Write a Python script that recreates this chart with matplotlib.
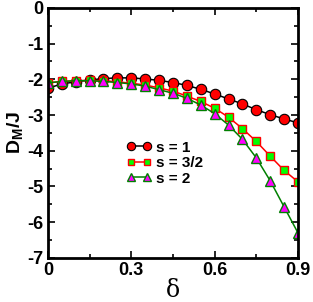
import numpy as np
import matplotlib
matplotlib.use('Agg')
import matplotlib.pyplot as plt
from matplotlib.ticker import MultipleLocator

delta = np.arange(19) * 0.05
s1 = [-2.25, -2.13, -2.07, -2.02, -1.98, -1.96, -1.96, -1.99, -2.03, -2.09,
      -2.17, -2.28, -2.41, -2.55, -2.69, -2.85, -2.99, -3.11, -3.22]
s32 = [-2.10, -2.06, -2.04, -2.03, -2.04, -2.07, -2.11, -2.16, -2.24, -2.33,
       -2.47, -2.62, -2.81, -3.06, -3.38, -3.74, -4.15, -4.55, -4.87]
s2 = [-2.10, -2.06, -2.04, -2.04, -2.06, -2.09, -2.13, -2.19, -2.29, -2.39,
      -2.53, -2.72, -2.96, -3.28, -3.68, -4.20, -4.84, -5.57, -6.30]
labels = ['s = 1', 's = 3/2', 's = 2']

plt.rcParams['font.family'] = ['Liberation Sans', 'DejaVu Sans']
plt.rcParams['font.weight'] = 'bold'
plt.rcParams['axes.unicode_minus'] = False
plt.rcParams['mathtext.fontset'] = 'custom'
plt.rcParams['mathtext.rm'] = 'Liberation Sans:bold'
plt.rcParams['mathtext.bf'] = 'Liberation Sans:bold'
plt.rcParams['mathtext.default'] = 'bf'

fig = plt.figure(figsize=(3.13, 3.02), dpi=100)
ax = fig.add_axes([0.153, 0.146, 0.799, 0.828])

ax.plot(delta, s1, '-o', color='black', lw=1.1, ms=7.5, mfc='red', mec='black', mew=0.8, label=labels[0])
ax.plot(delta, s32, '-s', color='red', lw=1.1, ms=6, mfc='#00ff00', mec='red', mew=1.0, label=labels[1])
ax.plot(delta, s2, '-^', color='green', lw=1.1, ms=6.5, mfc='magenta', mec='green', mew=1.0, label=labels[2])

ax.set_xlim(0, 0.9)
ax.set_ylim(-7, 0)
ax.set_xticks([0, 0.3, 0.6, 0.9])
ax.set_xticklabels(['0', '0.3', '0.6', '0.9'])
ax.xaxis.set_minor_locator(MultipleLocator(0.15))
ax.yaxis.set_major_locator(MultipleLocator(1))
ax.yaxis.set_minor_locator(MultipleLocator(0.5))
ax.tick_params(which='both', direction='in', top=True, right=True, width=1.2, labelsize=13, pad=3)
ax.tick_params(which='major', length=5)
ax.tick_params(which='minor', length=3)
for sp in ax.spines.values():
    sp.set_linewidth(2)

ax.set_xlabel('δ', family='DejaVu Serif', fontweight='normal', fontsize=17, labelpad=0)
ax.set_ylabel(r'$\mathbf{D_M/J}$', fontsize=14, labelpad=2)

ax.legend(loc='upper left', bbox_to_anchor=(0.285, 0.5), frameon=False, fontsize=11,
          numpoints=2, markerscale=0.8, handlelength=1.6, handletextpad=0.3,
          labelspacing=0.1, borderpad=0)

fig.savefig('out.png', dpi=100)
